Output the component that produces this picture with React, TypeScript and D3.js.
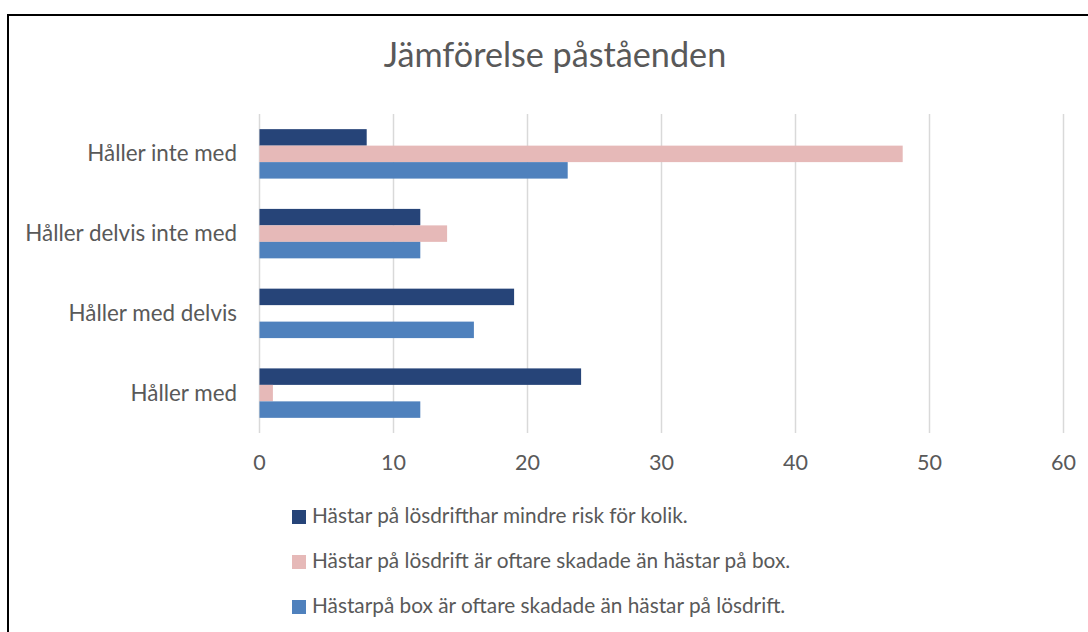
import React from "react";
import * as d3 from "d3";

const categories = ["Håller inte med", "Håller delvis inte med", "Håller med delvis", "Håller med"];
const seriesNames = [
  "Hästar på lösdrifthar mindre risk för kolik.",
  "Hästar på lösdrift är oftare skadade än hästar på box.",
  "Hästarpå box är oftare skadade än hästar på lösdrift.",
];
const seriesKolik = [8, 12, 19, 24];
const seriesLosdrift = [48, 14, 0, 1];
const seriesBox = [23, 12, 16, 12];
const xTicks = [0, 10, 20, 30, 40, 50, 60];
const colors = ["#264478", "#E6B9B8", "#4F81BD"];
const title = "Jämförelse påståenden";

const W = 1088;
const H = 632;
const FONT = "Lato, sans-serif";
const TEXT = "#595959";

export default function App() {
  const series = [seriesKolik, seriesLosdrift, seriesBox];
  const x = d3.scaleLinear().domain([0, 60]).range([259.5, 1063.5]);
  const y = d3.scaleBand<string>().domain(categories).range([114, 433]).paddingInner(0.38).paddingOuter(0.19);
  const inner = d3.scaleBand<number>().domain([0, 1, 2]).range([0, y.bandwidth()]);

  return (
    <svg width={W} height={H} style={{ position: "absolute", left: 0, top: 0 }}>
      <rect x={0} y={0} width={W} height={H} fill="#fff" />
      <rect x={8} y={15} width={1100} height={700} fill="none" stroke="#000" strokeWidth={2} />
      <text x={555} y={67} textAnchor="middle" fontFamily={FONT} fontSize={34.2} fill={TEXT}>{title}</text>
      {xTicks.map((t) => (
        <g key={t}>
          <line x1={x(t)} x2={x(t)} y1={114} y2={433} stroke="#D9D9D9" strokeWidth={1.5} />
          <text x={x(t)} y={470} textAnchor="middle" fontFamily={FONT} fontSize={21.5} fill={TEXT}>{t}</text>
        </g>
      ))}
      {categories.map((c, ci) => (
        <g key={c}>
          <text x={237} y={(y(c) as number) + y.bandwidth() / 2 + 7.5} textAnchor="end" fontFamily={FONT} fontSize={22.4} fill={TEXT}>{c}</text>
          {series.map((s, si) => (
            s[ci] > 0 ? (
              <rect key={si} x={x(0)} y={(y(c) as number) + (inner(si) as number)} width={x(s[ci]) - x(0)} height={inner.bandwidth()} fill={colors[si]} />
            ) : null
          ))}
        </g>
      ))}
      {seriesNames.map((n, i) => (
        <g key={n}>
          <rect x={292} y={510 + i * 45} width={14} height={14} fill={colors[i]} />
          <text x={312} y={523 + i * 45} fontFamily={FONT} fontSize={20.8} fill={TEXT}>{n}</text>
        </g>
      ))}
    </svg>
  );
}
